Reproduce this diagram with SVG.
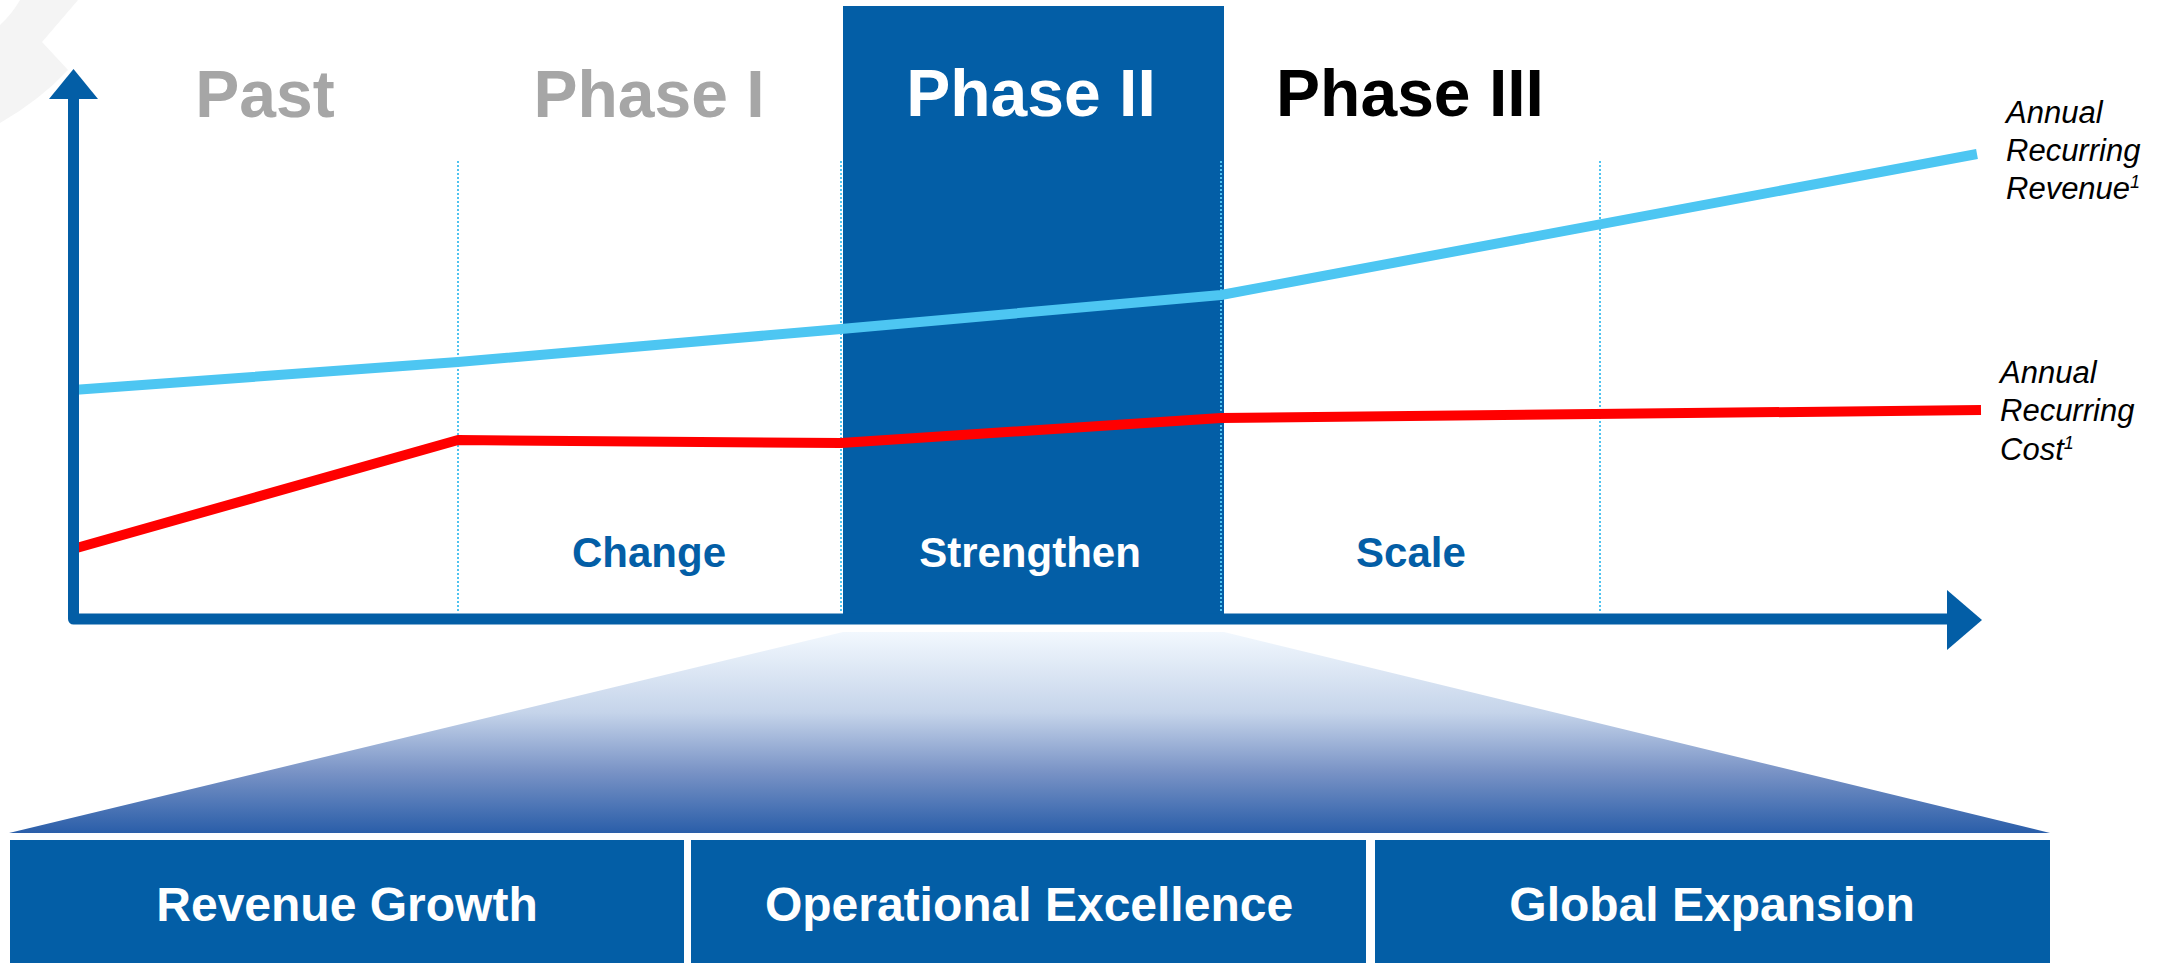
<svg xmlns="http://www.w3.org/2000/svg" width="2174" height="963" viewBox="0 0 2174 963">
  <defs>
    <linearGradient id="fanFill" x1="0" y1="632" x2="0" y2="833" gradientUnits="userSpaceOnUse">
      <stop offset="0" stop-color="#f2f8fe"/>
      <stop offset="0.4" stop-color="#c5d4ea"/>
      <stop offset="0.7" stop-color="#7892c5"/>
      <stop offset="1" stop-color="#2a5ea9"/>
    </linearGradient>
    <style>
      .phase { font-family: "Liberation Sans", Arial, sans-serif; font-weight: bold; font-size: 66px; text-anchor: middle; }
      .stage { font-family: "Liberation Sans", Arial, sans-serif; font-weight: bold; font-size: 42px; text-anchor: middle; }
      .pillar { font-family: "Liberation Sans", Arial, sans-serif; font-weight: bold; font-size: 48px; text-anchor: middle; fill: #ffffff; }
      .legend { font-family: "Liberation Sans", Arial, sans-serif; font-style: italic; font-size: 31px; fill: #000000; }
      .sup { font-size: 18px; }
      .blue { fill: #035ea6; }
      .divider { stroke: #4fc3f0; stroke-width: 2; stroke-dasharray: 2 2; fill: none; }
      .series { fill: none; stroke-width: 10; stroke-linejoin: round; }
    </style>
  </defs>

  <rect width="2174" height="963" fill="#ffffff"/>

  <!-- faint corner mark -->
  <path d="M20,0 L78,0 L42,42 L68,70 Q40,100 0,123 L0,25 Q12,14 20,0 Z" fill="#f4f4f4"/>

  <!-- highlighted phase column -->
  <g id="phase2-column">
    <rect x="843" y="6" width="381" height="618" class="blue"/>
  </g>

  <!-- phase dividers -->
  <g id="dividers">
    <line x1="458" y1="161" x2="458" y2="613" class="divider"/>
    <line x1="841" y1="161" x2="841" y2="613" class="divider"/>
    <line x1="1221" y1="161" x2="1221" y2="613" class="divider"/>
    <line x1="1600" y1="161" x2="1600" y2="613" class="divider"/>
  </g>

  <!-- phase titles -->
  <g id="phase-past"><text x="265" y="117" class="phase" fill="#a6a6a6">Past</text></g>
  <g id="phase-1"><text x="649" y="117" class="phase" fill="#a6a6a6">Phase I</text></g>
  <g id="phase-2"><text x="1031" y="116" class="phase" fill="#ffffff">Phase II</text></g>
  <g id="phase-3"><text x="1410" y="116" class="phase" fill="#000000">Phase III</text></g>

  <!-- stage labels -->
  <g id="stage-change"><text x="649" y="567" class="stage blue">Change</text></g>
  <g id="stage-strengthen"><text x="1030" y="567" class="stage" fill="#ffffff">Strengthen</text></g>
  <g id="stage-scale"><text x="1411" y="567" class="stage blue">Scale</text></g>

  <!-- trend lines -->
  <g id="connectors">
    <polyline id="revenue" class="series" stroke="#4dc6f2" points="73,390 458,362 841,329 1221,295 1977,154"/>
    <polyline id="cost" class="series" stroke="#ff0000" points="73,549 458,440 841,443 1221,418 1981,410"/>

    <!-- axes -->
    <g id="axes" fill="#035ea6">
      <path d="M73.5,98 V619 H1948" fill="none" stroke="#035ea6" stroke-width="11" stroke-linejoin="round"/>
      <polygon points="49,99 98,99 73.5,69"/>
      <polygon points="1947,590 1947,650 1982,620"/>
    </g>
  </g>

  <!-- series legends -->
  <g id="legend-revenue">
    <text class="legend" x="2006" y="123">Annual</text>
    <text class="legend" x="2006" y="161">Recurring</text>
    <text class="legend" x="2006" y="199">Revenue<tspan class="sup" dy="-11">1</tspan></text>
  </g>
  <g id="legend-cost">
    <text class="legend" x="2000" y="383">Annual</text>
    <text class="legend" x="2000" y="421">Recurring</text>
    <text class="legend" x="2000" y="460">Cost<tspan class="sup" dy="-11">1</tspan></text>
  </g>

  <!-- expansion fan from Phase II -->
  <g id="fan">
    <polygon points="843,632 1224,632 2050,833 9,833" fill="url(#fanFill)"/>
  </g>

  <!-- pillars -->
  <g id="pillar-revenue-growth">
    <rect x="10" y="840" width="674" height="130" class="blue"/>
    <text x="347" y="921" class="pillar">Revenue Growth</text>
  </g>
  <g id="pillar-operational-excellence">
    <rect x="691" y="840" width="675" height="130" class="blue"/>
    <text x="1029" y="921" class="pillar">Operational Excellence</text>
  </g>
  <g id="pillar-global-expansion">
    <rect x="1375" y="840" width="675" height="130" class="blue"/>
    <text x="1712" y="921" class="pillar">Global Expansion</text>
  </g>
</svg>
